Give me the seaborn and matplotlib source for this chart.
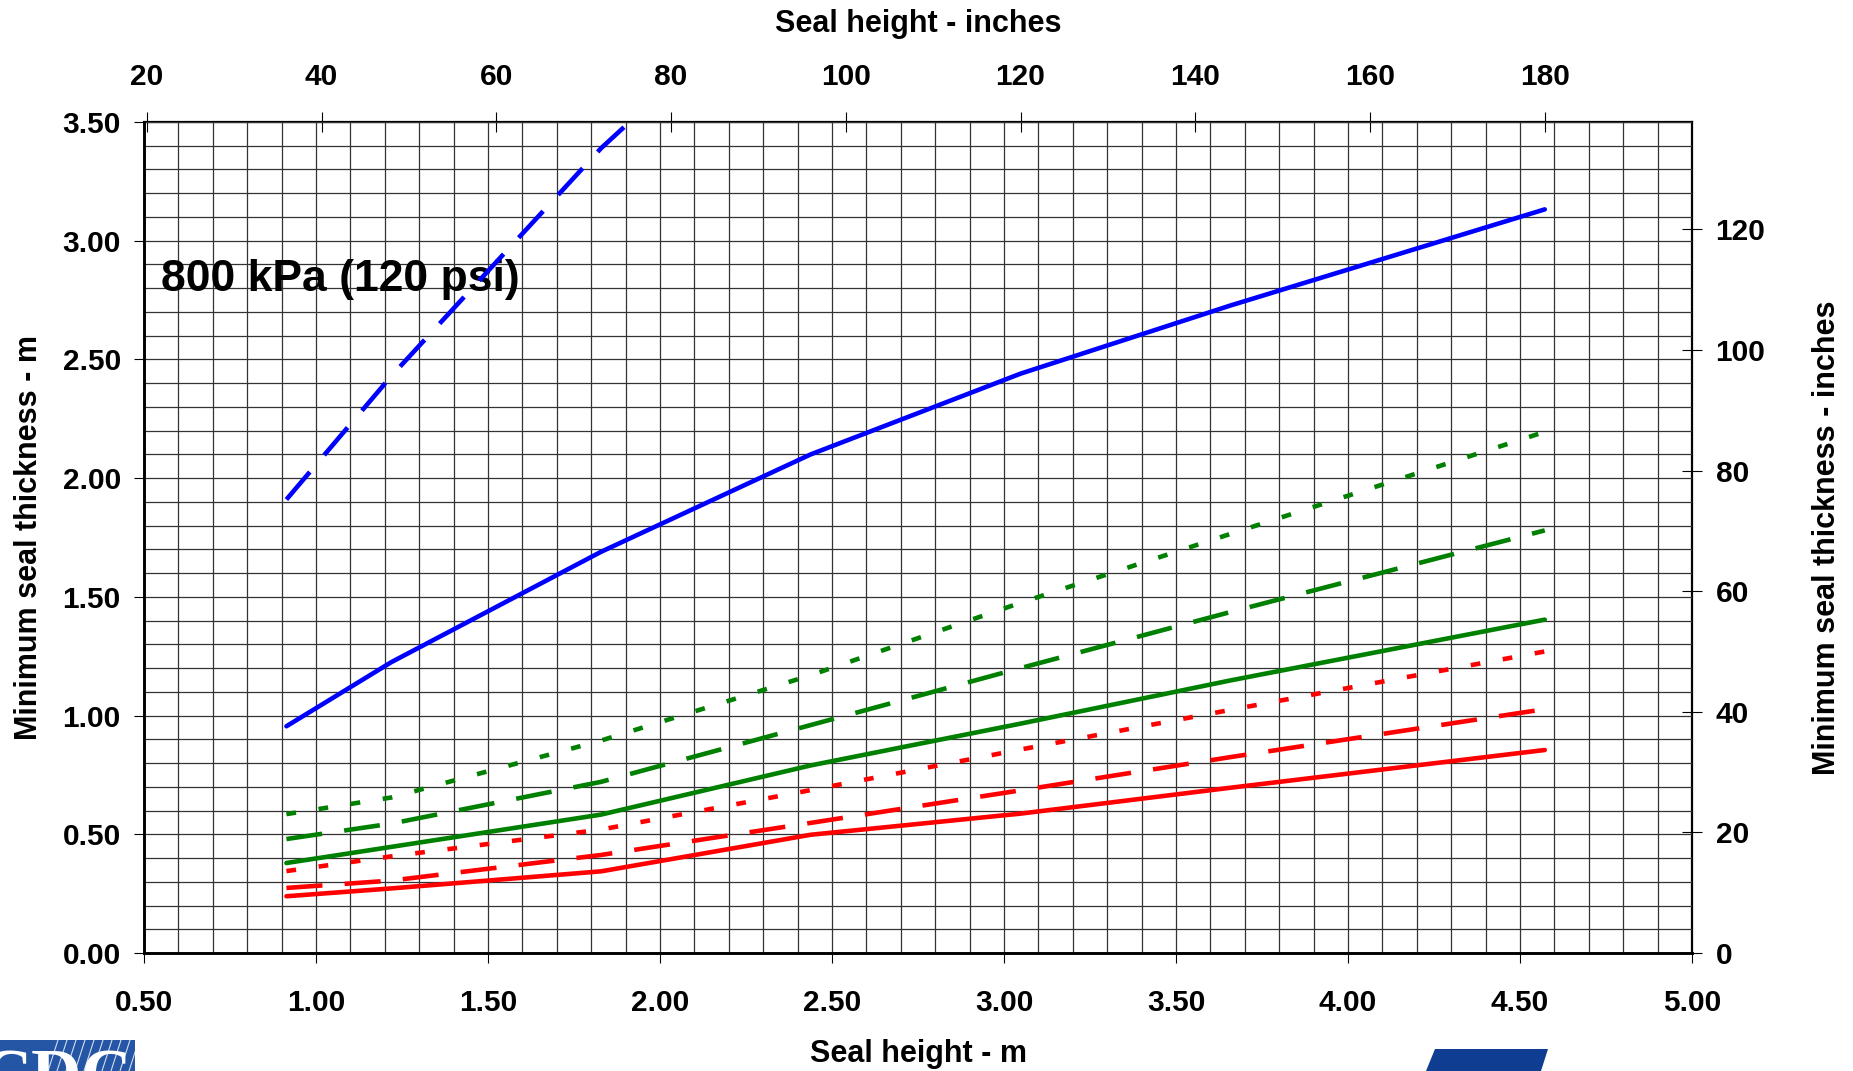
import numpy as np
import pandas as pd
import matplotlib
matplotlib.use("Agg")
import matplotlib.pyplot as plt
from matplotlib.patches import Polygon, Rectangle
from matplotlib.ticker import MultipleLocator, FormatStrFormatter
import seaborn as sns

# Seal heights (m) at 3, 4, 6, 8, 10, 12 and 15 ft
seal_height_m = [0.914, 1.219, 1.829, 2.438, 3.048, 3.658, 4.572]

# Minimum seal thickness (m) for each curve
blue_solid = [0.955, 1.225, 1.69, 2.10, 2.44, 2.727, 3.132]
blue_dashed = [1.91, 2.43, 3.39, 4.20]
green_dotted = [0.585, 0.655, 0.895, 1.17, 1.475, 1.765, 2.195]
green_dashed = [0.48, 0.545, 0.721, 0.96, 1.20, 1.436, 1.78]
green_solid = [0.379, 0.447, 0.583, 0.79, 0.966, 1.148, 1.404]
red_dotted = [0.345, 0.407, 0.52, 0.686, 0.857, 1.024, 1.27]
red_dashed = [0.274, 0.305, 0.413, 0.548, 0.685, 0.825, 1.027]
red_solid = [0.239, 0.272, 0.344, 0.498, 0.587, 0.696, 0.855]

# Axis ticks
x_ticks_m = [0.5, 1.0, 1.5, 2.0, 2.5, 3.0, 3.5, 4.0, 4.5, 5.0]
y_ticks_m = [0.0, 0.5, 1.0, 1.5, 2.0, 2.5, 3.0, 3.5]
top_ticks_in = [20, 40, 60, 80, 100, 120, 140, 160, 180]
right_ticks_in = [0, 20, 40, 60, 80, 100, 120]

title_text = "800 kPa (120 psi)"
xlabel_m = "Seal height - m"
xlabel_in = "Seal height - inches"
ylabel_m = "Minimum seal thickness - m"
ylabel_in = "Minimum seal thickness - inches"

M_PER_IN = 0.0254

sns.set_style("white")
plt.rcParams["font.family"] = ["Liberation Sans", "DejaVu Sans"]
plt.rcParams["font.weight"] = "bold"
plt.rcParams["lines.scale_dashes"] = False
for key in ("text.color", "axes.labelcolor", "xtick.color", "ytick.color",
            "xtick.labelcolor", "ytick.labelcolor"):
    plt.rcParams[key] = "black"

curves = {
    "blue_solid": blue_solid,
    "blue_dashed": blue_dashed,
    "green_dotted": green_dotted,
    "green_dashed": green_dashed,
    "green_solid": green_solid,
    "red_dotted": red_dotted,
    "red_dashed": red_dashed,
    "red_solid": red_solid,
}
rows = []
for name, vals in curves.items():
    for h, t in zip(seal_height_m, vals):
        rows.append({"curve": name, "height": h, "thickness": t})
df = pd.DataFrame(rows)

palette = {n: {"blue": "#0000ff", "green": "#008000", "red": "#ff0000"}[n.split("_")[0]]
           for n in curves}
dash_map = {"solid": "", "dashed": (26.0, 16.0), "dotted": (7.0, 16.4)}
dashes = {n: dash_map[n.split("_")[1]] for n in curves}

W, H = 1853, 1071
fig = plt.figure(figsize=(W / 100, H / 100), dpi=100)
ax = fig.add_axes([144 / W, 1 - 953 / H, 1548 / W, 831 / H])

sns.lineplot(data=df, x="height", y="thickness", hue="curve", style="curve",
             palette=palette, dashes=dashes, estimator=None, sort=False,
             linewidth=3.3, legend=False, ax=ax,
             solid_capstyle="round", dash_capstyle="butt", zorder=3)

ax.set_xlim(0.5, 5.0)
ax.set_ylim(0.0, 3.5)
ax.set_xticks(x_ticks_m)
ax.set_yticks(y_ticks_m)
ax.xaxis.set_major_formatter(FormatStrFormatter("%.2f"))
ax.yaxis.set_major_formatter(FormatStrFormatter("%.2f"))
ax.xaxis.set_minor_locator(MultipleLocator(0.1))
ax.yaxis.set_minor_locator(MultipleLocator(0.1))
ax.set_axisbelow(True)
ax.grid(which="both", color="#333333", linewidth=0.9)
ax.tick_params(which="minor", length=0)
ax.tick_params(axis="x", which="major", direction="out", length=7.2, width=0.8,
               pad=18.5, labelsize=21.5, bottom=True, colors="black")
ax.tick_params(axis="y", which="major", direction="out", length=7.2, width=0.8,
               pad=9.5, labelsize=21.5, left=True, colors="black")
for lab in ax.get_xticklabels() + ax.get_yticklabels():
    lab.set_fontweight("bold")
ax.set_xlabel("")
ax.set_ylabel("")
for side in ("left", "bottom"):
    ax.spines[side].set_linewidth(2.1)
    ax.spines[side].set_color("black")
for side in ("top", "right"):
    ax.spines[side].set_visible(False)

# Secondary axes in inches
top = ax.secondary_xaxis("top", functions=(lambda m: m / M_PER_IN, lambda i: i * M_PER_IN))
top.set_xticks(top_ticks_in)
top.tick_params(direction="inout", length=14, width=0.8, pad=15, labelsize=21.5,
                colors="black")
top.spines["top"].set_linewidth(1.6)
top.spines["top"].set_color("black")
for lab in top.get_xticklabels():
    lab.set_fontweight("bold")

right = ax.secondary_yaxis("right", functions=(lambda m: m / M_PER_IN, lambda i: i * M_PER_IN))
right.set_yticks(right_ticks_in)
right.tick_params(direction="inout", length=14, width=0.8, pad=10, labelsize=21.5,
                  colors="black")
right.spines["right"].set_linewidth(1.6)
right.spines["right"].set_color("black")
for lab in right.get_yticklabels():
    lab.set_fontweight("bold")

ax.text(0.548, 2.79, title_text, fontsize=32, fontweight="bold", color="black",
        ha="left", va="baseline", zorder=2)

# Axis titles
fig.text(918 / W, 1 - 1062 / H, xlabel_m, fontsize=22, fontweight="bold",
         ha="center", va="baseline")
fig.text(918 / W, 1 - 32 / H, xlabel_in, fontsize=22, fontweight="bold",
         ha="center", va="baseline")
fig.text(29 / W, 1 - 538 / H, ylabel_m, fontsize=22, fontweight="bold",
         ha="center", va="center", rotation=90)
fig.text(1827 / W, 1 - 538 / H, ylabel_in, fontsize=22, fontweight="bold",
         ha="center", va="center", rotation=90)

# Agency marks along the bottom edge
logo_ax = fig.add_axes([0, 0, 135 / W, 31 / H])
logo_ax.set_xlim(0, 135)
logo_ax.set_ylim(1071, 1040)
logo_ax.axis("off")
logo_ax.add_patch(Rectangle((0, 1040), 135, 31, facecolor="#2556a6",
                            edgecolor="none", zorder=0))
for x0 in range(58, 140, 9):
    logo_ax.plot([x0, x0 - 10], [1040, 1071], color="white", lw=0.8, zorder=1,
                 alpha=0.8)
logo_ax.text(-18, 1098, "CDC", fontsize=50, fontweight="bold", color="white",
             family=["Liberation Serif", "DejaVu Serif"], ha="left",
             va="baseline", clip_on=True, zorder=2)

fig.patches.append(Polygon(
    [(1435 / W, 1 - 1049 / H), (1548 / W, 1 - 1049 / H),
     (1541 / W, 0.0), (1426 / W, 0.0)],
    closed=True, transform=fig.transFigure, facecolor="#0e3d91",
    edgecolor="none"))

fig.savefig("out.png", dpi=100, facecolor="white")
